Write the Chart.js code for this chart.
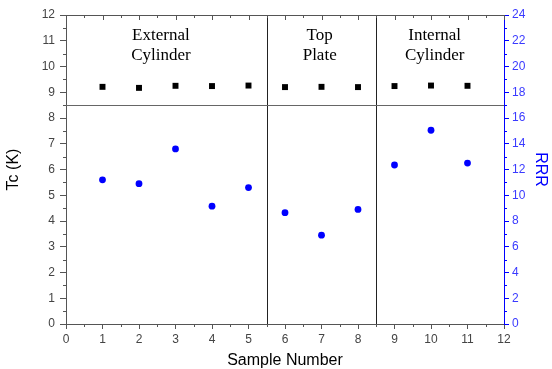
<!DOCTYPE html>
<html>
<head>
<meta charset="utf-8">
<script src="https://cdn.jsdelivr.net/npm/chart.js@4"></script>
<style>
  html, body { margin: 0; padding: 0; background: #fff; }
</style>
</head>
<body>
<canvas id="chart" width="552" height="369"></canvas>
<script>
// data
const samples = [1, 2, 3, 4, 5, 6, 7, 8, 9, 10, 11];
const tc = [9.21, 9.17, 9.25, 9.24, 9.26, 9.20, 9.21, 9.20, 9.24, 9.26, 9.25];
const rrr = [11.2, 10.9, 13.6, 9.15, 10.6, 8.65, 6.9, 8.9, 12.35, 15.05, 12.5];

// region separators (sample axis) and Tc separator
const dividers = [5.5, 8.5];
const tcDivider = 8.5;
const regions = [
    { x: 2.6, lines: ['External', 'Cylinder'] },
    { x: 6.95, lines: ['Top', 'Plate'] },
    { x: 10.1, lines: ['Internal', 'Cylinder'] }
];

const axisGray = '#555';
const labelGray = '#444';
const blue = '#0000ff';

// separator lines under the points
const separators = {
    id: 'separators',
    beforeDatasetsDraw(chart) {
        const { ctx, chartArea: a, scales } = chart;
        ctx.save();
        ctx.lineWidth = 1;
        ctx.strokeStyle = '#222';
        dividers.forEach(v => {
            const px = Math.round(scales.x.getPixelForValue(v)) + 0.5;
            ctx.beginPath();
            ctx.moveTo(px, a.top);
            ctx.lineTo(px, a.bottom);
            ctx.stroke();
        });
        ctx.strokeStyle = '#666';
        const py = Math.round(scales.y.getPixelForValue(tcDivider)) + 0.5;
        ctx.beginPath();
        ctx.moveTo(a.left, py);
        ctx.lineTo(a.right, py);
        ctx.stroke();
        ctx.restore();
    }
};

// top border, inward ticks on top, minor ticks on all sides
const frame = {
    id: 'frame',
    afterDraw(chart) {
        const { ctx, chartArea: a, scales } = chart;
        ctx.save();
        ctx.lineWidth = 1;
        ctx.strokeStyle = axisGray;
        ctx.beginPath();
        ctx.moveTo(a.left, a.top + 0.5);
        ctx.lineTo(a.right, a.top + 0.5);
        ctx.stroke();

        // x axis: minor ticks bottom, major + minor inward ticks on top
        for (let v = 0; v <= 12; v += 0.5) {
            const px = Math.round(scales.x.getPixelForValue(v)) + 0.5;
            const major = v % 1 === 0;
            ctx.beginPath();
            if (!major) {
                ctx.moveTo(px, a.bottom);
                ctx.lineTo(px, a.bottom + 3);
            }
            ctx.moveTo(px, a.top);
            ctx.lineTo(px, a.top + (major ? 5 : 3));
            ctx.stroke();
        }
        // left minor ticks
        for (let v = 0.5; v < 12; v += 1) {
            const py = Math.round(scales.y.getPixelForValue(v)) + 0.5;
            ctx.beginPath();
            ctx.moveTo(a.left, py);
            ctx.lineTo(a.left - 3, py);
            ctx.stroke();
        }
        // right minor ticks
        ctx.strokeStyle = blue;
        for (let v = 1; v < 24; v += 2) {
            const py = Math.round(scales.y1.getPixelForValue(v)) + 0.5;
            ctx.beginPath();
            ctx.moveTo(a.right, py);
            ctx.lineTo(a.right + 3, py);
            ctx.stroke();
        }
        ctx.restore();
    }
};

// region names
const regionLabels = {
    id: 'regionLabels',
    afterDatasetsDraw(chart) {
        const { ctx, scales } = chart;
        ctx.save();
        ctx.fillStyle = '#000';
        ctx.font = '17px "Liberation Serif", "Times New Roman", serif';
        ctx.textAlign = 'center';
        ctx.textBaseline = 'middle';
        regions.forEach(r => {
            const px = scales.x.getPixelForValue(r.x);
            r.lines.forEach((t, i) => {
                const py = scales.y.getPixelForValue(11.2 - i * 0.78);
                ctx.fillText(t, px, py);
            });
        });
        ctx.restore();
    }
};

const tickFont = { family: '"Liberation Sans", Arial, sans-serif', size: 12 };
const titleFont = { family: '"Liberation Sans", Arial, sans-serif', size: 16 };

new Chart(document.getElementById('chart'), {
    type: 'scatter',
    data: {
        datasets: [{
            label: 'Tc',
            data: samples.map((s, i) => ({ x: s, y: tc[i] })),
            yAxisID: 'y',
            pointStyle: 'rect',
            pointRadius: 4.2,
            backgroundColor: '#000',
            borderColor: '#000',
            borderWidth: 0
        }, {
            label: 'RRR',
            data: samples.map((s, i) => ({ x: s, y: rrr[i] })),
            yAxisID: 'y1',
            pointStyle: 'circle',
            pointRadius: 3.4,
            backgroundColor: blue,
            borderColor: blue,
            borderWidth: 0
        }]
    },
    options: {
        responsive: false,
        animation: false,
        layout: { padding: { top: 15, left: 0, right: 0, bottom: 0 } },
        plugins: {
            legend: { display: false },
            tooltip: { enabled: false }
        },
        scales: {
            x: {
                type: 'linear',
                position: 'bottom',
                min: 0,
                max: 12,
                ticks: { stepSize: 1, color: labelGray, font: tickFont, padding: 3, maxRotation: 0 },
                grid: { drawOnChartArea: false, tickLength: 5, color: axisGray },
                border: { color: axisGray, width: 1 },
                title: { display: true, text: 'Sample Number', color: '#000', font: titleFont, padding: { top: 0, bottom: -1 } },
                afterFit(scale) { scale.height = 45; }
            },
            y: {
                position: 'left',
                min: 0,
                max: 12,
                ticks: { stepSize: 1, color: labelGray, font: tickFont, padding: 5 },
                grid: { drawOnChartArea: false, tickLength: 6, color: axisGray },
                border: { color: axisGray, width: 1 },
                title: { display: true, text: 'Tc (K)', color: '#000', font: titleFont, padding: 4 },
                afterFit(scale) { scale.width = 66; }
            },
            y1: {
                position: 'right',
                min: 0,
                max: 24,
                ticks: { stepSize: 2, color: '#3a3aff', font: tickFont, padding: 3 },
                grid: { drawOnChartArea: false, tickLength: 5, color: blue },
                border: { color: blue, width: 1 },
                title: { display: true, text: 'RRR', color: blue, font: titleFont, padding: 2 },
                afterFit(scale) { scale.width = 48; }
            }
        }
    },
    plugins: [separators, frame, regionLabels]
});
</script>
</body>
</html>
